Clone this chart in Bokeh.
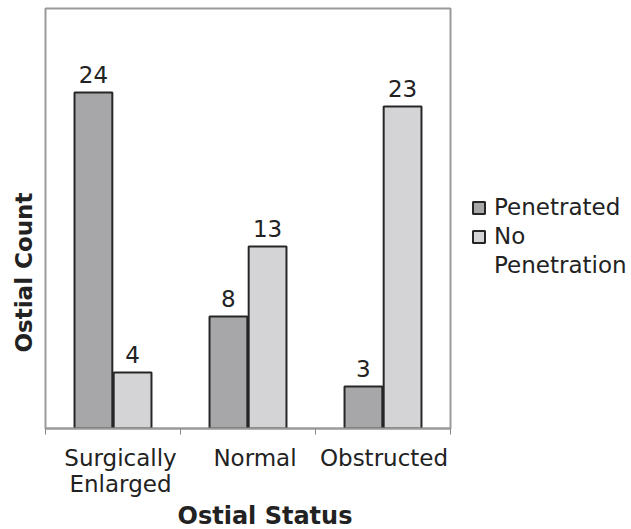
import math
from bokeh.plotting import figure
from bokeh.models import (ColumnDataSource, Range1d, FixedTicker, Legend, LegendItem, Title,
                          CDSView, IndexFilter)
from bokeh.embed import file_html
from bokeh.resources import INLINE
from bokeh.core.properties import value
from bokeh.transform import dodge

categories = ["Surgically Enlarged", "Normal", "Obstructed"]
tick_labels = ["Surgically\nEnlarged", "Normal", "Obstructed"]
penetrated = [24, 8, 3]
no_penetration = [4, 13, 23]
series_names = ["Penetrated", "No Penetration"]
x_title = "Ostial Status"
y_title = "Ostial Count"

# style: horizontal nudge of each category label, in pixels
label_nudge_px = [7.5, 7.0, 1.0]

FONT = "DejaVu Sans"
TXT = "#222222"
DARK = "#a7a7a9"
LIGHT = "#d4d4d6"
FRAME_W = 405
x_center = [i + 0.5 for i in range(len(categories))]
boundaries = [float(i) for i in range(len(categories) + 1)]
px_per_unit = FRAME_W / len(categories)
label_pos = [c + n / px_per_unit for c, n in zip(x_center, label_nudge_px)]

src = ColumnDataSource(dict(
    x=x_center,
    pen=penetrated,
    nopen=no_penetration,
    pen_lbl=[str(v) for v in penetrated],
    nopen_lbl=[str(v) for v in no_penetration],
))

p = figure(frame_width=FRAME_W, frame_height=420, output_backend="svg", toolbar_location=None,
           x_range=Range1d(0, 3), y_range=Range1d(0, 30),
           min_border_left=45, min_border_right=181, min_border_top=8, min_border_bottom=101)
p.grid.visible = False
p.yaxis.visible = False
p.outline_line_color = "#9a9a9a"
p.outline_line_width = 2
p.background_fill_color = "white"
p.border_fill_color = "white"

OFF = 0.145
W = 0.28
r1 = p.vbar(x=dodge("x", -OFF, range=p.x_range), top="pen", width=W, source=src,
            fill_color=DARK, line_color="#262626", line_width=2)
r2 = p.vbar(x=dodge("x", OFF, range=p.x_range), top="nopen", width=W, source=src,
            fill_color=LIGHT, line_color="#262626", line_width=2)

for xo, col in ((-OFF, "pen"), (OFF, "nopen")):
    p.text(x=dodge("x", xo, range=p.x_range), y=col, text=col + "_lbl", source=src,
           text_align="center", text_baseline="bottom", y_offset=-10,
           text_font=value(FONT), text_font_size="23px", text_color=TXT)

ax = p.xaxis[0]
ax.ticker = FixedTicker(ticks=label_pos, minor_ticks=boundaries)
ax.major_label_overrides = {x: lbl for x, lbl in zip(label_pos, tick_labels)}
ax.major_tick_line_color = None
ax.major_tick_out = 0
ax.major_tick_in = 0
ax.minor_tick_out = 6
ax.minor_tick_in = 0
ax.minor_tick_line_color = "#888888"
ax.minor_tick_line_width = 1
ax.axis_line_color = "#9a9a9a"
ax.axis_line_width = 2
ax.major_label_standoff = 10
ax.major_label_text_font = FONT
ax.major_label_text_font_size = "23px"
ax.major_label_text_color = TXT
ax.major_label_text_line_height = 1.0

xtitle = Title(text=x_title, align="left", offset=132, standoff=0,
               text_font=FONT, text_font_style="bold", text_font_size="24px",
               text_color=TXT)
p.add_layout(xtitle, "below")

ytitle = Title(text=y_title, align="left", offset=76, standoff=17,
               text_font=FONT, text_font_style="bold", text_font_size="23px",
               text_color=TXT)
p.add_layout(ytitle, "left")

# second series name wraps onto a second legend row without a swatch
lg_none = p.vbar(x=dodge("x", OFF, range=p.x_range), top="nopen", width=W, source=src,
                 view=CDSView(filter=IndexFilter(indices=[])),
                 fill_alpha=0, line_alpha=0)
name_rows = series_names[1].split(" ")

legend = Legend(items=[LegendItem(label=series_names[0], renderers=[r1]),
                       LegendItem(label=name_rows[0], renderers=[r2]),
                       LegendItem(label=name_rows[1], renderers=[lg_none])],
                location=(21, 150), glyph_width=15, glyph_height=15, label_standoff=8,
                padding=0, margin=0, spacing=3, border_line_color=None,
                background_fill_alpha=0, label_text_font=FONT,
                label_text_font_size="23px", label_text_color=TXT)
p.add_layout(legend, "right")

open("out.html", "w").write(file_html(p, INLINE))
